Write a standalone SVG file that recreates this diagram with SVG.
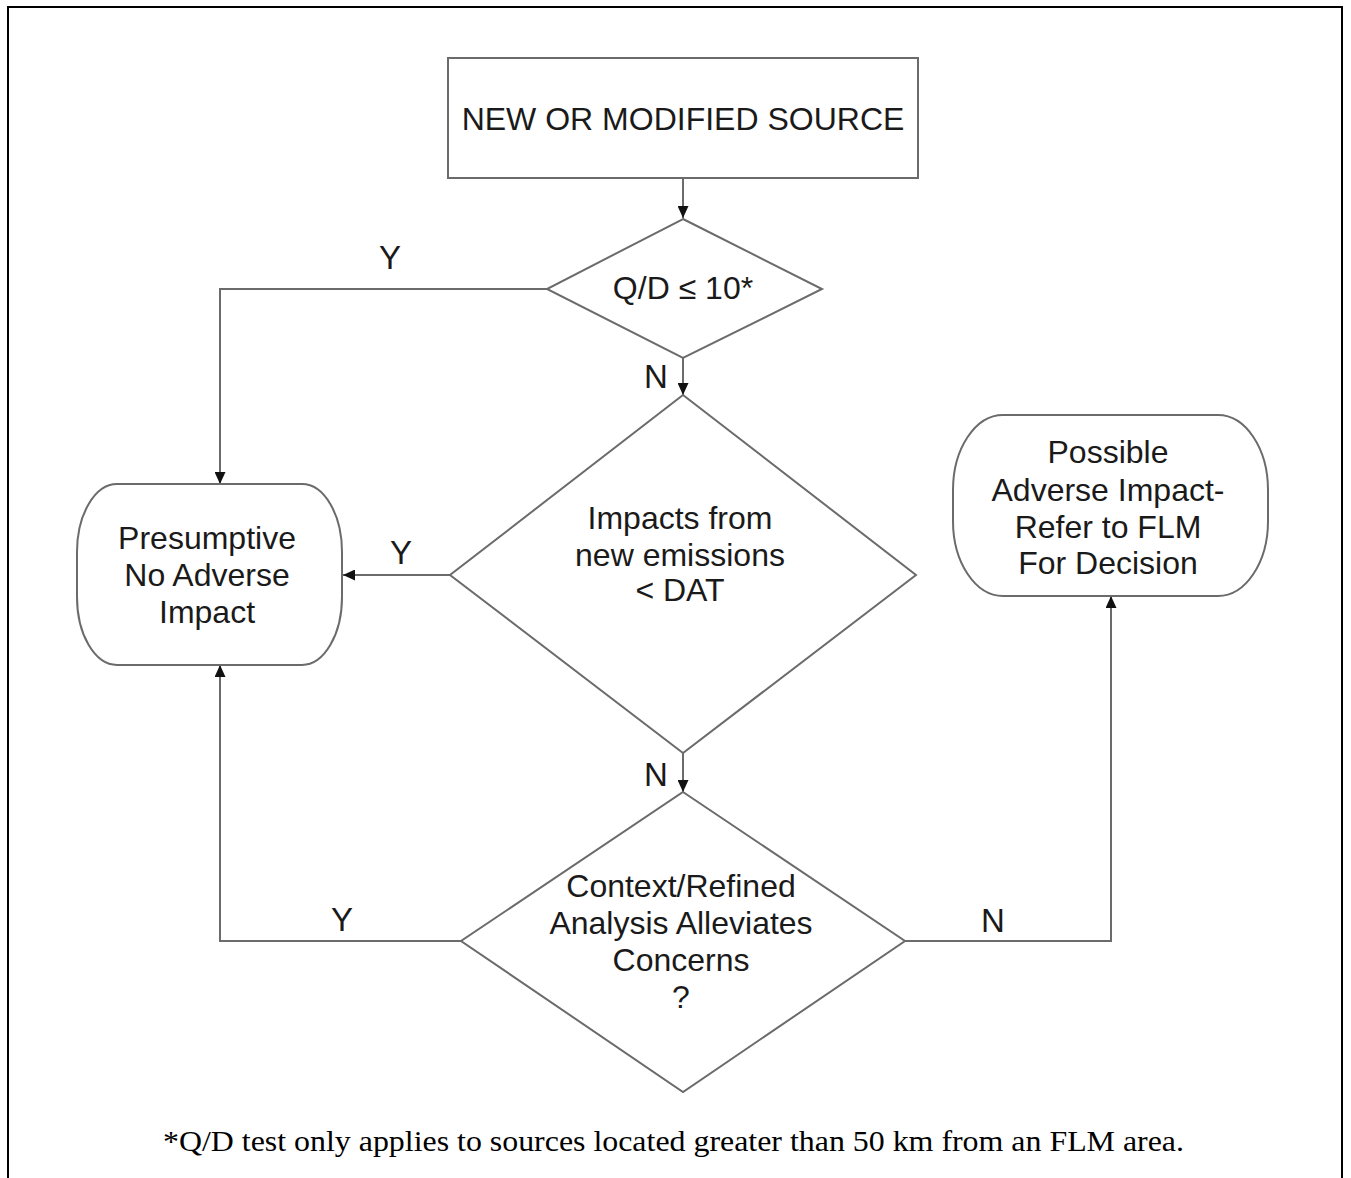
<svg xmlns="http://www.w3.org/2000/svg" width="1351" height="1178" viewBox="0 0 1351 1178">
<style>
.shape{fill:#fff;stroke:#6b6b6b;stroke-width:2}
.conn{fill:none;stroke:#6b6b6b;stroke-width:2}
.t{font-family:"Liberation Sans",Arial,sans-serif;font-size:32px;fill:#1a1a1a;text-anchor:middle}
.lbl{font-family:"Liberation Sans",Arial,sans-serif;font-size:33px;fill:#1a1a1a;text-anchor:middle}
.foot{font-family:"Liberation Serif","Times New Roman",serif;font-size:29px;fill:#000}
</style>
<defs>
<marker id="arr" markerUnits="userSpaceOnUse" markerWidth="13" markerHeight="11" refX="12" refY="5.5" orient="auto">
<path d="M0,0 L12,5.5 L0,11 z" fill="#111"/>
</marker>
</defs>
<rect width="1351" height="1178" fill="#fff"/>
<g id="frame">
<path d="M8,1178 V7 H1342 V1178" fill="none" stroke="#000" stroke-width="2"/>
</g>
<g id="connectors">
<path class="conn" d="M683,178 V218" marker-end="url(#arr)"/>
<path class="conn" d="M547,289 H220 V484" marker-end="url(#arr)"/>
<path class="conn" d="M683,358 V395" marker-end="url(#arr)"/>
<path class="conn" d="M450,575 H343" marker-end="url(#arr)"/>
<path class="conn" d="M683,753 V792" marker-end="url(#arr)"/>
<path class="conn" d="M461,941 H220 V665" marker-end="url(#arr)"/>
<path class="conn" d="M905,941 H1111 V596" marker-end="url(#arr)"/>
<text class="lbl" x="390" y="269">Y</text>
<text class="lbl" x="656" y="388">N</text>
<text class="lbl" x="401" y="564">Y</text>
<text class="lbl" x="656" y="786">N</text>
<text class="lbl" x="342" y="931">Y</text>
<text class="lbl" x="993" y="932">N</text>
</g>
<g id="start">
<rect class="shape" x="448" y="58" width="470" height="120"/>
<text class="t" x="683" y="130">NEW OR MODIFIED SOURCE</text>
</g>
<g id="qd">
<path class="shape" d="M683,219 L822,289 L683,358 L547,289 Z"/>
<text class="t" x="683" y="299">Q/D ≤ 10*</text>
</g>
<g id="dat">
<path class="shape" d="M683,395 L916,575 L683,753 L450,575 Z"/>
<text class="t" x="680" y="529">Impacts from</text>
<text class="t" x="680" y="566">new emissions</text>
<text class="t" x="680" y="601">&lt; DAT</text>
</g>
<g id="context">
<path class="shape" d="M683,792 L905,941 L683,1092 L461,941 Z"/>
<text class="t" x="681" y="897">Context/Refined</text>
<text class="t" x="681" y="934">Analysis Alleviates</text>
<text class="t" x="681" y="971">Concerns</text>
<text class="t" x="681" y="1008">?</text>
</g>
<g id="presumptive">
<rect class="shape" x="77" y="484" width="265" height="181" rx="40" ry="68"/>
<text class="t" x="207" y="549">Presumptive</text>
<text class="t" x="207" y="586">No Adverse</text>
<text class="t" x="207" y="623">Impact</text>
</g>
<g id="possible">
<rect class="shape" x="953" y="415" width="315" height="181" rx="50" ry="75"/>
<text class="t" x="1108" y="463">Possible</text>
<text class="t" x="1108" y="501">Adverse Impact-</text>
<text class="t" x="1108" y="538">Refer to FLM</text>
<text class="t" x="1108" y="574">For Decision</text>
</g>
<g id="footnote">
<text class="foot" x="163" y="1151" textLength="1021" lengthAdjust="spacingAndGlyphs">*Q/D test only applies to sources located greater than 50 km from an FLM area.</text>
</g>
</svg>
